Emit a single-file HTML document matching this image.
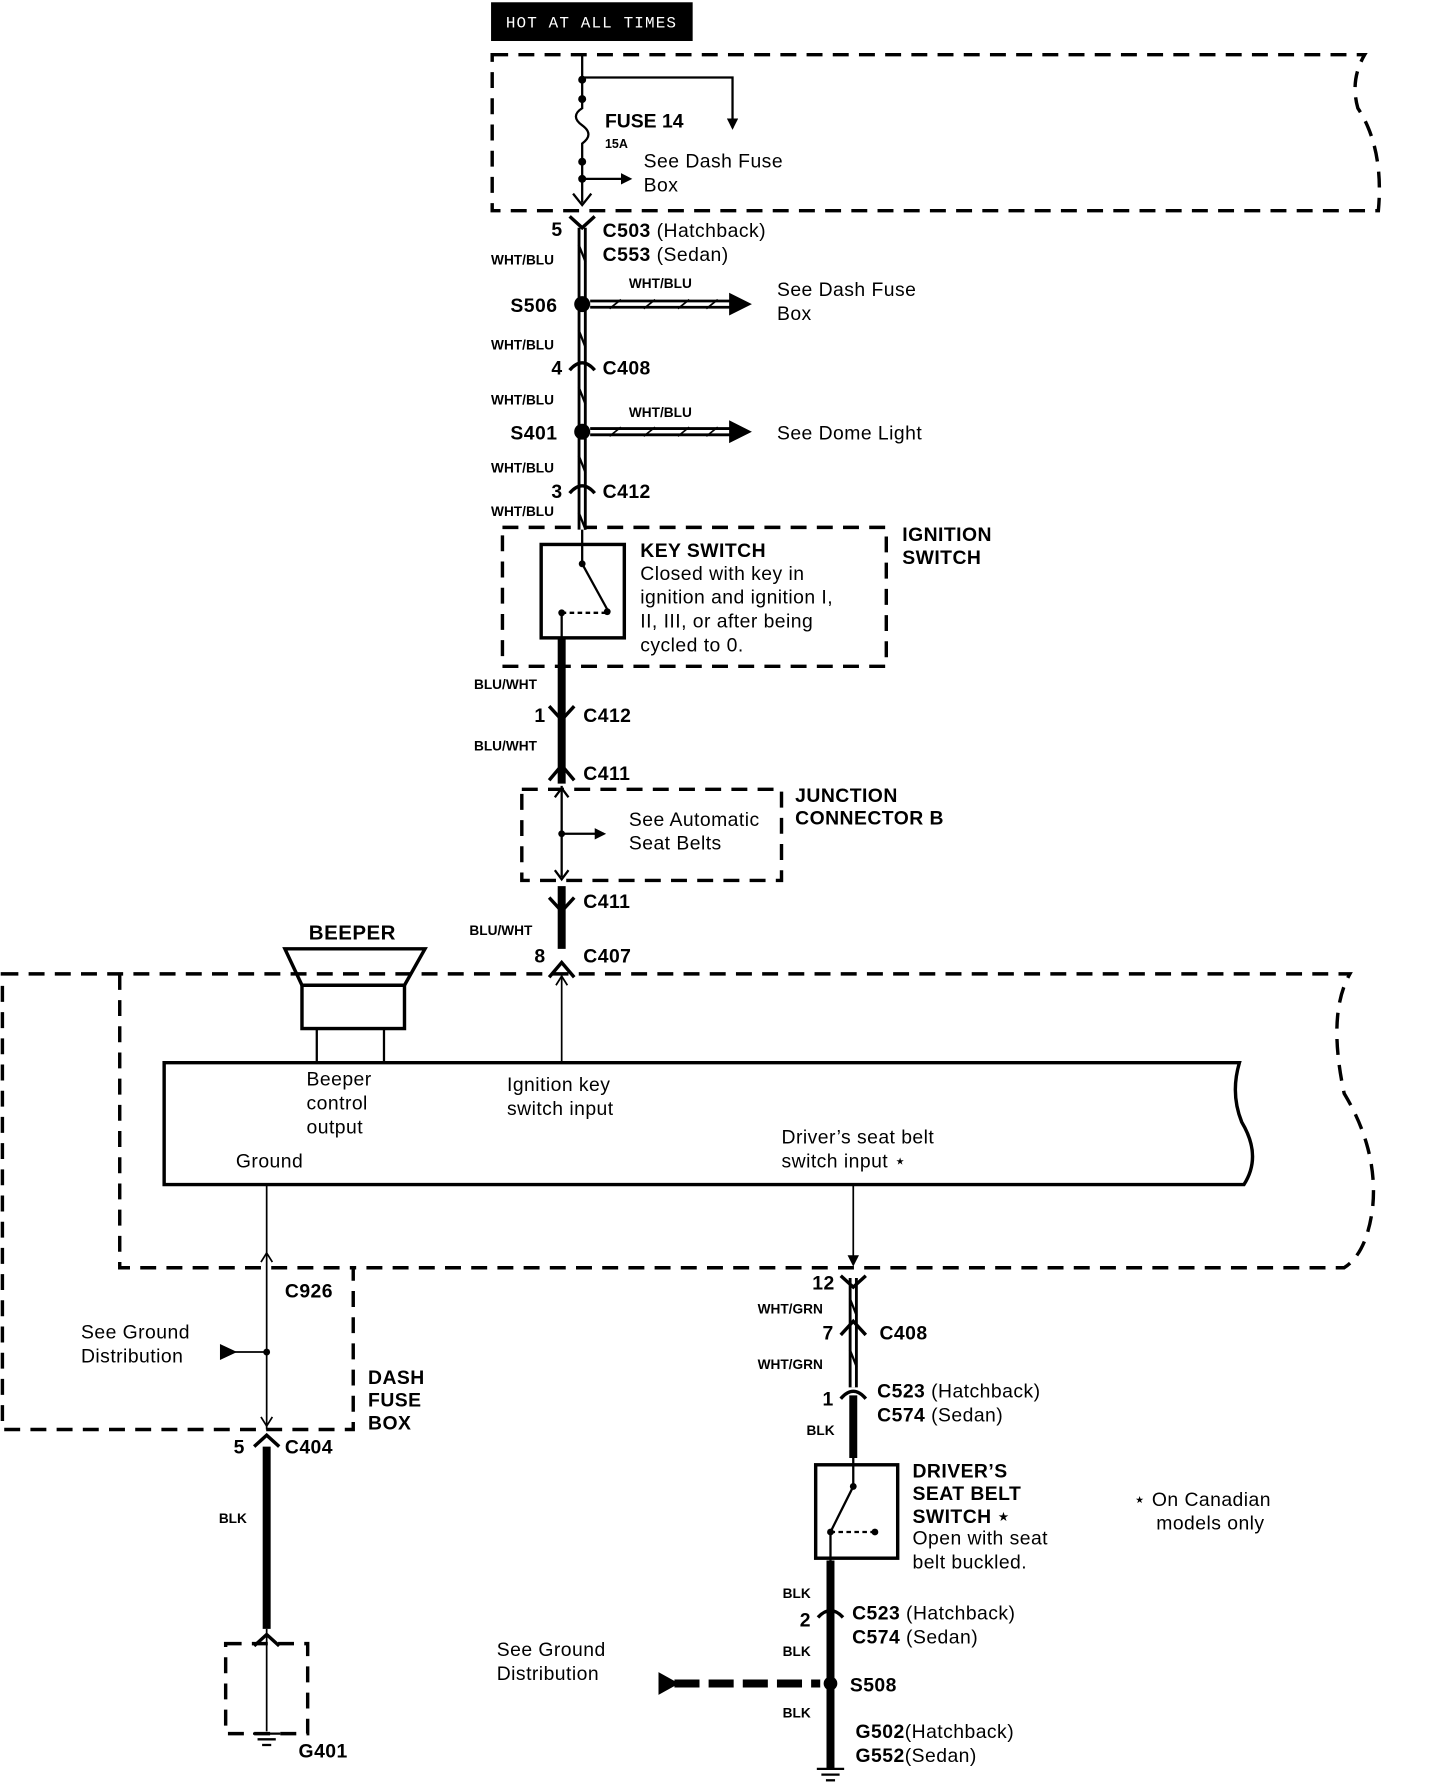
<!DOCTYPE html>
<html><head><meta charset="utf-8"><style>html,body{margin:0;padding:0;background:#fff}svg{display:block}text{font-family:"Liberation Sans",sans-serif;fill:#000}.b{font-weight:bold}.s{font-size:12px;font-weight:bold}.m{font-size:17px;letter-spacing:0.4px}</style></head><body>
<svg width="1440" height="1786" viewBox="0 0 1264 1568" xmlns="http://www.w3.org/2000/svg">
<defs><marker id="a" markerWidth="10" markerHeight="10" refX="8" refY="5" orient="auto" markerUnits="userSpaceOnUse"><path d="M0,0 L10,5 L0,10z" fill="#000"/></marker></defs>
<rect x="431" y="2" width="177" height="34" fill="#000"/>
<text x="444" y="24" style="font-family:'Liberation Mono',monospace;font-size:14px;fill:#fff;letter-spacing:1px">HOT AT ALL TIMES</text>
<g fill="none" stroke="#000" stroke-width="3" stroke-dasharray="14,9">
<path d="M432 48 L1198 48 Q1185 70 1192 95 Q1215 130 1210 185 L432 185 Z"/>
<path d="M2 855 L1185 855 Q1165 890 1180 960 Q1210 1010 1205 1060 Q1200 1100 1180 1113 L310 1113 L310 1255 L2 1255 Z"/>
<path d="M105 855 L105 1113 L310 1113"/>
<path d="M441 463 L778 463 L778 585 L441 585 Z"/>
<path d="M458 693 L686 693 L686 773 L458 773 Z"/>
<path d="M198 1443 L270 1443 L270 1522 L198 1522 Z"/>
</g>
<g stroke="#000" fill="none" stroke-width="2">
<path d="M511 48 L511 95 Q500 102 511 110 Q522 118 511 126 L511 178"/>
<path d="M511 68 L643 68 L643 112" marker-end="url(#a)"/>
<path d="M511 157 L553 157" marker-end="url(#a)"/>
<path d="M503 170 L511 180 L519 170"/>
</g>
<g fill="#000"><circle cx="511" cy="70" r="3.5"/><circle cx="511" cy="87" r="3.5"/><circle cx="511" cy="142" r="3.5"/><circle cx="511" cy="157" r="3.5"/></g>
<g stroke="#000" stroke-width="8"><line x1="511" y1="200" x2="511" y2="465"/><line x1="749" y1="1122" x2="749" y2="1218"/></g>
<g stroke="#fff" stroke-width="3"><line x1="511" y1="200" x2="511" y2="465"/><line x1="749" y1="1122" x2="749" y2="1218"/></g>
<g stroke="#000" stroke-width="7">
<line x1="493" y1="560" x2="493" y2="688"/>
<line x1="493" y1="778" x2="493" y2="833"/>
<line x1="234" y1="1270" x2="234" y2="1430"/>
<line x1="749" y1="1225" x2="749" y2="1280"/>
<line x1="729" y1="1370" x2="729" y2="1553"/>
<path d="M592 1478 L720 1478" stroke-dasharray="22,8"/>
</g>
<path d="M578 1468 L596 1478 L578 1488z"/>
<circle cx="729" cy="1478" r="6"/>
<g stroke="#000" stroke-width="3" fill="none">
<path d="M500 190 L511 200 L522 190"/><path d="M500 325 Q511 312 522 325"/><path d="M500 433 Q511 420 522 433"/>
<path d="M482 620 L493 632 L504 620"/><path d="M482 685 L493 672 L504 685"/><path d="M482 788 L493 800 L504 788"/><path d="M482 858 L493 845 L504 858"/>
<path d="M738 1120 L749 1130 L760 1120"/><path d="M738 1172 L749 1160 L760 1172"/><path d="M738 1228 Q749 1215 760 1228"/>
<path d="M223 1270 L234 1260 L245 1270"/><path d="M718 1420 Q729 1408 740 1420"/>
<path d="M223 1445 L234 1435 L245 1445"/>
</g>
<g stroke="#000" stroke-width="2" fill="none"><path d="M508 215 L514 230"/><path d="M508 290 L514 305"/><path d="M508 340 L514 355"/><path d="M508 400 L514 415"/><path d="M508 450 L514 465"/><path d="M491 640 L495 655"/><path d="M491 808 L495 823"/><path d="M746 1140 L752 1155"/><path d="M746 1185 L752 1200"/></g>
<g stroke="#000" stroke-width="8"><line x1="518" y1="267" x2="645" y2="267"/><line x1="518" y1="379" x2="645" y2="379"/></g>
<g stroke="#fff" stroke-width="3"><line x1="518" y1="267" x2="645" y2="267"/><line x1="518" y1="379" x2="645" y2="379"/></g>
<g stroke="#000" stroke-width="1.5"><path d="M535 271 L545 263 M565 271 L575 263 M595 271 L605 263 M620 271 L630 263"/><path d="M535 383 L545 375 M565 383 L575 375 M595 383 L605 375 M620 383 L630 375"/></g>
<path d="M640 257 L660 267 L640 277z"/><path d="M640 369 L660 379 L640 389z"/>
<circle cx="511" cy="267" r="7"/><circle cx="511" cy="379" r="7"/>
<rect x="475" y="478" width="73" height="82" fill="none" stroke="#000" stroke-width="3"/>
<g stroke="#000" stroke-width="2" fill="none"><line x1="511" y1="465" x2="511" y2="495"/><line x1="511" y1="495" x2="533" y2="535"/><path d="M493 538 L533 538" stroke-dasharray="4,3"/><line x1="493" y1="538" x2="493" y2="560"/></g>
<circle cx="511" cy="495" r="3"/><circle cx="533" cy="537" r="3"/><circle cx="493" cy="538" r="3"/>
<g stroke="#000" stroke-width="2" fill="none"><line x1="493" y1="690" x2="493" y2="770"/><path d="M487 700 L493 692 L499 700"/><path d="M487 764 L493 772 L499 764"/><line x1="493" y1="732" x2="530" y2="732" marker-end="url(#a)"/></g>
<circle cx="493" cy="732" r="3"/>
<path d="M250 833 L373 833 L355 865 L265 865 Z" fill="none" stroke="#000" stroke-width="3"/>
<rect x="265" y="865" width="90" height="38" fill="none" stroke="#000" stroke-width="3"/>
<g stroke="#000" stroke-width="2"><line x1="278" y1="903" x2="278" y2="933"/><line x1="337" y1="903" x2="337" y2="933"/></g>
<path d="M144 933 L1088 933 Q1080 960 1090 985 Q1108 1015 1092 1040 L144 1040 Z" fill="none" stroke="#000" stroke-width="3"/>
<g stroke="#000" stroke-width="1.5" fill="none"><line x1="493" y1="855" x2="493" y2="933"/><path d="M488 865 L493 857 L498 865"/>
<line x1="749" y1="1040" x2="749" y2="1110" marker-end="url(#a)"/>
<line x1="234" y1="1040" x2="234" y2="1255"/><path d="M229 1108 L234 1100 L239 1108"/><path d="M229 1244 L234 1252 L239 1244"/>
<line x1="195" y1="1187" x2="234" y2="1187"/><line x1="234" y1="1430" x2="234" y2="1520"/></g>
<path d="M193 1180 L208 1187 L193 1194z"/><circle cx="234" cy="1187" r="3"/>
<g stroke="#000" stroke-width="2"><line x1="222" y1="1522" x2="246" y2="1522"/><line x1="226" y1="1527" x2="242" y2="1527"/><line x1="230" y1="1532" x2="238" y2="1532"/>
<line x1="717" y1="1553" x2="741" y2="1553"/><line x1="721" y1="1558" x2="737" y2="1558"/><line x1="725" y1="1563" x2="733" y2="1563"/></g>
<rect x="716" y="1286" width="72" height="82" fill="none" stroke="#000" stroke-width="3"/>
<g stroke="#000" stroke-width="2" fill="none"><line x1="749" y1="1280" x2="749" y2="1305"/><line x1="749" y1="1305" x2="729" y2="1345"/><path d="M729 1345 L768 1345" stroke-dasharray="4,3"/><line x1="729" y1="1345" x2="729" y2="1370"/></g>
<circle cx="749" cy="1305" r="3"/><circle cx="768" cy="1345" r="3"/><circle cx="729" cy="1345" r="3"/>
<text x="531" y="112" class="b" style="font-size:17px">FUSE 14</text>
<text x="531" y="130" class="s" style="font-size:11px">15A</text>
<text x="565" y="147" class="m">See Dash Fuse</text><text x="565" y="168" class="m">Box</text>
<text x="484" y="207" class="b m">5</text>
<text x="529" y="208" class="m"><tspan class="b">C503</tspan> (Hatchback)</text>
<text x="529" y="229" class="m"><tspan class="b">C553</tspan> (Sedan)</text>
<text x="431" y="232" class="s">WHT/BLU</text>
<text x="552" y="253" class="s">WHT/BLU</text>
<text x="682" y="260" class="m">See Dash Fuse</text><text x="682" y="281" class="m">Box</text>
<text x="448" y="274" class="b m">S506</text>
<text x="431" y="307" class="s">WHT/BLU</text>
<text x="484" y="329" class="b m">4</text><text x="529" y="329" class="b m">C408</text>
<text x="431" y="355" class="s">WHT/BLU</text>
<text x="552" y="366" class="s">WHT/BLU</text>
<text x="448" y="386" class="b m">S401</text><text x="682" y="386" class="m">See Dome Light</text>
<text x="431" y="415" class="s">WHT/BLU</text>
<text x="484" y="437" class="b m">3</text><text x="529" y="437" class="b m">C412</text>
<text x="431" y="453" class="s">WHT/BLU</text>
<text x="562" y="489" class="b m">KEY SWITCH</text>
<text x="562" y="509" class="m">Closed with key in</text>
<text x="562" y="530" class="m">ignition and ignition I,</text>
<text x="562" y="551" class="m">II, III, or after being</text>
<text x="562" y="572" class="m">cycled to 0.</text>
<text x="792" y="475" class="b m">IGNITION</text><text x="792" y="495" class="b m">SWITCH</text>
<text x="416" y="605" class="s">BLU/WHT</text>
<text x="469" y="634" class="b m">1</text><text x="512" y="634" class="b m">C412</text>
<text x="416" y="659" class="s">BLU/WHT</text>
<text x="512" y="685" class="b m">C411</text>
<text x="698" y="704" class="b m">JUNCTION</text><text x="698" y="724" class="b m">CONNECTOR B</text>
<text x="552" y="725" class="m">See Automatic</text><text x="552" y="746" class="m">Seat Belts</text>
<text x="512" y="797" class="b m">C411</text>
<text x="412" y="821" class="s">BLU/WHT</text>
<text x="469" y="845" class="b m">8</text><text x="512" y="845" class="b m">C407</text>
<text x="271" y="825" class="b m" style="font-size:18px">BEEPER</text>
<text x="269" y="953" class="m">Beeper</text><text x="269" y="974" class="m">control</text><text x="269" y="995" class="m">output</text>
<text x="445" y="958" class="m">Ignition key</text><text x="445" y="979" class="m">switch input</text>
<text x="686" y="1004" class="m">Driver’s  seat belt</text><text x="686" y="1025" class="m">switch input ⋆</text>
<text x="207" y="1025" class="m">Ground</text>
<text x="250" y="1139" class="b m">C926</text>
<text x="71" y="1175" class="m">See Ground</text><text x="71" y="1196" class="m">Distribution</text>
<text x="323" y="1215" class="b m">DASH</text><text x="323" y="1235" class="b m">FUSE</text><text x="323" y="1255" class="b m">BOX</text>
<text x="205" y="1276" class="b m">5</text><text x="250" y="1276" class="b m">C404</text>
<text x="192" y="1337" class="s">BLK</text>
<text x="262" y="1543" class="b m">G401</text>
<text x="713" y="1132" class="b m">12</text>
<text x="665" y="1153" class="s">WHT/GRN</text>
<text x="722" y="1176" class="b m">7</text><text x="772" y="1176" class="b m">C408</text>
<text x="665" y="1202" class="s">WHT/GRN</text>
<text x="722" y="1234" class="b m">1</text>
<text x="770" y="1227" class="m"><tspan class="b">C523</tspan> (Hatchback)</text>
<text x="770" y="1248" class="m"><tspan class="b">C574</tspan> (Sedan)</text>
<text x="708" y="1260" class="s">BLK</text>
<text x="801" y="1297" class="b m">DRIVER’S</text><text x="801" y="1317" class="b m">SEAT BELT</text><text x="801" y="1337" class="b m">SWITCH ⋆</text>
<text x="801" y="1356" class="m">Open with seat</text><text x="801" y="1377" class="m">belt buckled.</text>
<text x="995" y="1322" class="m">⋆ On Canadian</text><text x="1015" y="1343" class="m">models only</text>
<text x="687" y="1403" class="s">BLK</text>
<text x="702" y="1428" class="b m">2</text>
<text x="748" y="1422" class="m"><tspan class="b">C523</tspan> (Hatchback)</text>
<text x="748" y="1443" class="m"><tspan class="b">C574</tspan> (Sedan)</text>
<text x="687" y="1454" class="s">BLK</text>
<text x="436" y="1454" class="m">See Ground</text><text x="436" y="1475" class="m">Distribution</text>
<text x="746" y="1485" class="b m">S508</text>
<text x="687" y="1508" class="s">BLK</text>
<text x="751" y="1526" class="m"><tspan class="b">G502</tspan>(Hatchback)</text>
<text x="751" y="1547" class="m"><tspan class="b">G552</tspan>(Sedan)</text>
</svg>
</body></html>
